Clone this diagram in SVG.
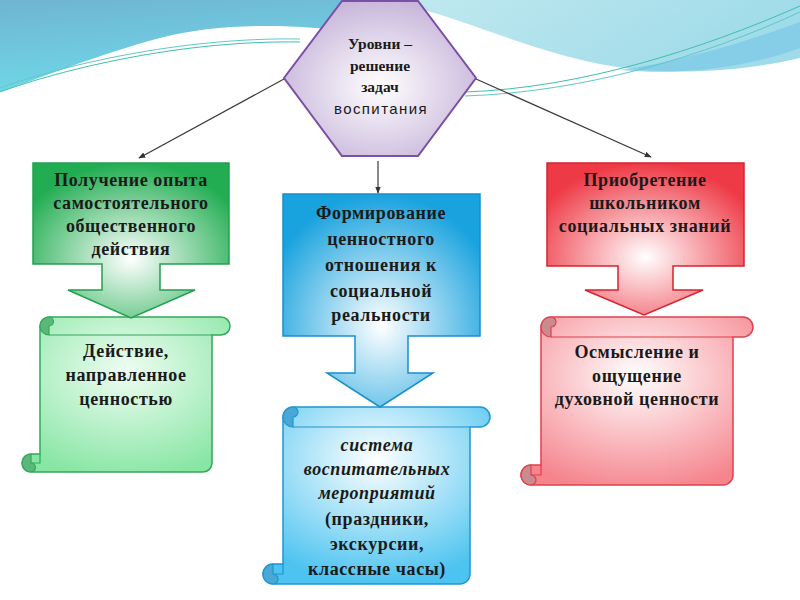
<svg xmlns="http://www.w3.org/2000/svg" width="800" height="600" viewBox="0 0 800 600">
<defs>
  <linearGradient id="bgL" x1="0" y1="0" x2="0.3" y2="1">
    <stop offset="0" stop-color="#6fb4d2"/>
    <stop offset="1" stop-color="#6fd9e8"/>
  </linearGradient>
  <linearGradient id="bgR" x1="0" y1="0" x2="1" y2="0.3">
    <stop offset="0" stop-color="#bfe8ef"/>
    <stop offset="1" stop-color="#9fdbe9"/>
  </linearGradient>
  <radialGradient id="gHex" cx="0.5" cy="0.55" r="0.6">
    <stop offset="0" stop-color="#ffffff"/>
    <stop offset="1" stop-color="#c4b1d8"/>
  </radialGradient>
  <radialGradient id="gGreen" cx="0.5" cy="0.62" r="0.62">
    <stop offset="0" stop-color="#ffffff"/>
    <stop offset="1" stop-color="#22ad52"/>
  </radialGradient>
  <radialGradient id="gBlue" cx="0.5" cy="0.62" r="0.62">
    <stop offset="0" stop-color="#ffffff"/>
    <stop offset="1" stop-color="#18a2de"/>
  </radialGradient>
  <radialGradient id="gRed" cx="0.5" cy="0.62" r="0.62">
    <stop offset="0" stop-color="#ffffff"/>
    <stop offset="1" stop-color="#ee3a46"/>
  </radialGradient>
  <radialGradient id="sGreen" cx="0.5" cy="0.35" r="0.7">
    <stop offset="0" stop-color="#effdf3"/>
    <stop offset="1" stop-color="#88e6a4"/>
  </radialGradient>
  <radialGradient id="sBlue" cx="0.5" cy="0.3" r="0.7">
    <stop offset="0" stop-color="#ffffff"/>
    <stop offset="1" stop-color="#4cc3f0"/>
  </radialGradient>
  <radialGradient id="sRed" cx="0.5" cy="0.35" r="0.7">
    <stop offset="0" stop-color="#ffffff"/>
    <stop offset="1" stop-color="#f5848d"/>
  </radialGradient>
  <marker id="arr" viewBox="0 0 10 10" refX="9" refY="5" markerWidth="7" markerHeight="7" orient="auto" markerUnits="userSpaceOnUse">
    <path d="M0,1 L10,5 L0,9 Z" fill="#333"/>
  </marker>
  <style>
    .t { font-family: "Liberation Serif", "Times New Roman", serif; font-weight: bold; font-size: 18px; fill: #1a1a1a; text-anchor: middle; letter-spacing: 0.6px; }
    .ti { font-style: italic; }
    .th { font-family: "Liberation Serif", serif; font-weight: bold; font-size: 15.5px; fill: #1a1a1a; text-anchor: middle; }
    .ts { font-family: "Liberation Sans", Arial, sans-serif; font-size: 15px; fill: #1a1a1a; text-anchor: middle; letter-spacing: 1.4px; }
    .conn { stroke: #3a3a3a; stroke-width: 1.2; fill: none; }
  </style>
</defs>

<!-- background -->
<rect width="800" height="600" fill="#ffffff"/>
<path d="M0,0 H350 V32 C300,24 220,22 160,38 C100,54 40,78 0,92 Z" fill="url(#bgL)"/>
<path d="M415,0 H800 V58 C740,72 660,78 590,62 C520,46 460,18 415,8 Z" fill="url(#bgR)"/>
<path d="M620,70 C690,60 750,40 800,22 V48 C750,66 690,76 620,70 Z" fill="#7fcbe6" opacity="0.8"/>
<path d="M0,92 C60,70 180,40 300,42" stroke="#3fbfae" stroke-width="1" fill="none"/>
<path d="M0,88 C60,66 180,37 300,39" stroke="#5fc8c8" stroke-width="1" fill="none"/>
<path d="M465,92 C580,88 700,50 800,6" stroke="#3fbfae" stroke-width="1" fill="none"/>
<path d="M465,96 C585,92 705,56 800,12" stroke="#5fc8c8" stroke-width="1" fill="none"/>

<!-- connectors -->
<g id="connectors">
  <line class="conn" x1="284" y1="79" x2="139" y2="158" marker-end="url(#arr)"/>
  <line class="conn" x1="476" y1="79" x2="651" y2="157" marker-end="url(#arr)"/>
  <line class="conn" x1="378" y1="161" x2="378" y2="193" marker-end="url(#arr)"/>
</g>

<!-- hexagon -->
<g id="hex">
  <polygon points="342,1 418,1 476,78 418,156 342,156 284,78" fill="url(#gHex)" stroke="#7a4fa6" stroke-width="2"/>
  <text class="th" x="380" y="49">Уровни –</text>
  <text class="th" x="380" y="71">решение</text>
  <text class="th" x="380" y="92">задач</text>
  <text class="ts" x="381" y="114">воспитания</text>
</g>

<!-- green scroll -->
<g id="scroll-green">
  <path d="M40,326 A9,9 0 0 1 49,317 H221 A9,9 0 0 1 221,335 H212 V463 A9,9 0 0 1 203,472 H31 A9,9 0 0 1 31,454 H40 Z" fill="url(#sGreen)" stroke="#33a85a" stroke-width="1.5"/>
  <path d="M49,335 A9,9 0 0 1 49,317 A4.5,4.5 0 0 1 49,326 Z" fill="#5bb87a" stroke="#33a85a" stroke-width="1.2"/>
  <line x1="49" y1="335" x2="212" y2="335" stroke="#33a85a" stroke-width="1.2"/>
  <path d="M31,454 A9,9 0 0 0 31,472 A4.5,4.5 0 0 0 31,463 Z" fill="#5bb87a" stroke="#33a85a" stroke-width="1.2"/>
  <path d="M31,463 H40 V454" fill="none" stroke="#33a85a" stroke-width="1.2"/>
  <text class="t" x="126" y="357">Действие,</text>
  <text class="t" x="126" y="381">направленное</text>
  <text class="t" x="126" y="405">ценностью</text>
</g>

<!-- blue scroll -->
<g id="scroll-blue">
  <path d="M283,417 A10,10 0 0 1 293,407 H480 A10,10 0 0 1 480,427 H470 V574 A10,10 0 0 1 460,584 H273 A10,10 0 0 1 273,564 H283 Z" fill="url(#sBlue)" stroke="#1e96cf" stroke-width="1.5"/>
  <path d="M293,427 A10,10 0 0 1 293,407 A5,5 0 0 1 293,417 Z" fill="#4aa8d6" stroke="#1e96cf" stroke-width="1.2"/>
  <line x1="293" y1="427" x2="470" y2="427" stroke="#1e96cf" stroke-width="1.2"/>
  <path d="M273,564 A10,10 0 0 0 273,584 A5,5 0 0 0 273,574 Z" fill="#4aa8d6" stroke="#1e96cf" stroke-width="1.2"/>
  <path d="M273,574 H283 V564" fill="none" stroke="#1e96cf" stroke-width="1.2"/>
  <text class="t ti" x="377" y="451">система</text>
  <text class="t ti" x="377" y="475">воспитательных</text>
  <text class="t ti" x="377" y="499">мероприятий</text>
  <text class="t" x="377" y="525">(праздники,</text>
  <text class="t" x="377" y="550">экскурсии,</text>
  <text class="t" x="377" y="575">классные часы)</text>
</g>

<!-- red scroll -->
<g id="scroll-red">
  <path d="M541,327 A10,10 0 0 1 551,317 H743 A10,10 0 0 1 743,337 H733 V475 A10,10 0 0 1 723,485 H531 A10,10 0 0 1 531,465 H541 Z" fill="url(#sRed)" stroke="#e0404b" stroke-width="1.5"/>
  <path d="M551,337 A10,10 0 0 1 551,317 A5,5 0 0 1 551,327 Z" fill="#c98a90" stroke="#e0404b" stroke-width="1.2"/>
  <line x1="551" y1="337" x2="733" y2="337" stroke="#e0404b" stroke-width="1.2"/>
  <path d="M531,465 A10,10 0 0 0 531,485 A5,5 0 0 0 531,475 Z" fill="#c98a90" stroke="#e0404b" stroke-width="1.2"/>
  <path d="M531,475 H541 V465" fill="none" stroke="#e0404b" stroke-width="1.2"/>
  <text class="t" x="637" y="358">Осмысление и</text>
  <text class="t" x="637" y="382">ощущение</text>
  <text class="t" x="637" y="405">духовной ценности</text>
</g>

<!-- green callout -->
<g id="box-green">
  <polygon points="33,163 229,163 229,264 160,264 160,290 195,290 131,318 68,290 102,290 102,264 33,264" fill="url(#gGreen)" stroke="#22a04e" stroke-width="1.5"/>
  <text class="t" x="131" y="186">Получение опыта</text>
  <text class="t" x="131" y="209">самостоятельного</text>
  <text class="t" x="131" y="232">общественного</text>
  <text class="t" x="131" y="255">действия</text>
</g>

<!-- blue callout -->
<g id="box-blue">
  <polygon points="283,194 480,194 480,336 408,336 408,373 433,373 380,407 327,373 355,373 355,336 283,336" fill="url(#gBlue)" stroke="#1790cc" stroke-width="1.5"/>
  <text class="t" x="381" y="219">Формирование</text>
  <text class="t" x="381" y="245">ценностного</text>
  <text class="t" x="381" y="271">отношения к</text>
  <text class="t" x="381" y="297">социальной</text>
  <text class="t" x="381" y="321">реальности</text>
</g>

<!-- red callout -->
<g id="box-red">
  <polygon points="547,163 744,163 744,266 673,266 673,290 703,290 644,315 585,290 618,290 618,266 547,266" fill="url(#gRed)" stroke="#d9222e" stroke-width="1.5"/>
  <text class="t" x="645" y="186">Приобретение</text>
  <text class="t" x="645" y="209">школьником</text>
  <text class="t" x="645" y="232">социальных знаний</text>
</g>
</svg>
